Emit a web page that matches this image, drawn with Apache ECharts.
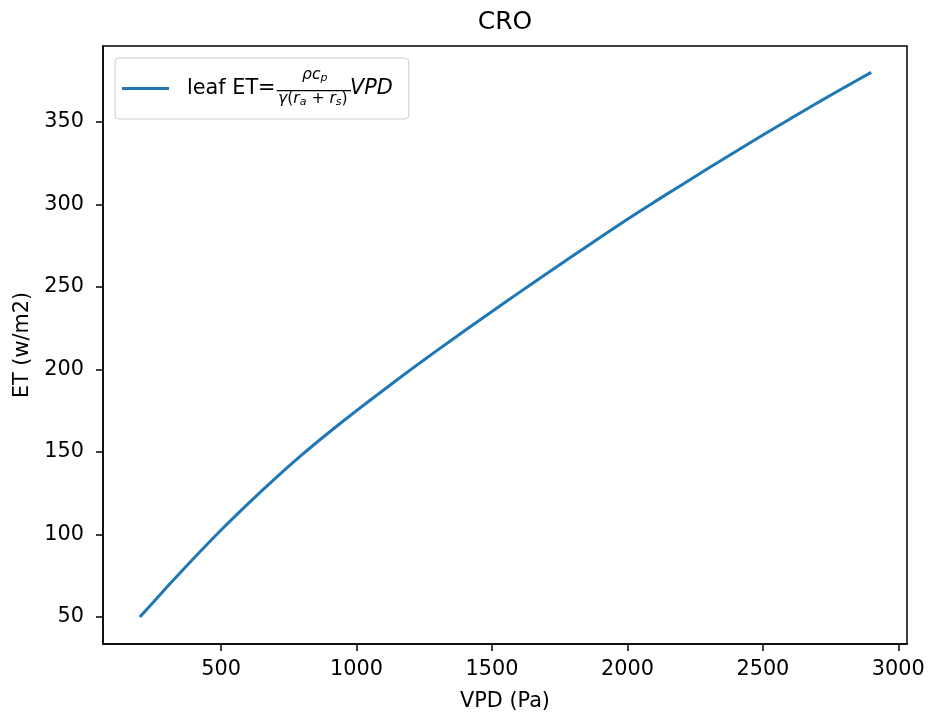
<!DOCTYPE html>
<html>
<head>
<meta charset="utf-8">
<script src="https://cdn.jsdelivr.net/npm/echarts@6/dist/echarts.min.js"></script>
<style>
  html, body { margin: 0; padding: 0; background: #fff; }
  #main { width: 928px; height: 717px; }
</style>
</head>
<body>
<div id="main"></div>
<script>
// VPD (Pa) 和 ET (w/m2) 数据，读自原图
var vpd = [200, 300, 400, 500, 600, 700, 800, 900, 1000, 1100, 1200, 1300, 1400, 1500,
  1600, 1700, 1800, 1900, 2000, 2100, 2200, 2300, 2400, 2500, 2600, 2700, 2800, 2900];
var et = [49.8, 68.0, 85.6, 102.6, 118.6, 133.9, 148.4, 162.0, 175.0, 187.5, 199.8, 211.8, 223.5, 235.0,
  246.5, 257.8, 269.0, 280.0, 291.0, 301.5, 311.8, 322.0, 332.0, 342.0, 351.8, 361.4, 370.8, 380.0];
var xTicks = [500, 1000, 1500, 2000, 2500, 3000];
var yTicks = [50, 100, 150, 200, 250, 300, 350];

var font = "DejaVu Sans";
var fs = 20.8;

var points = vpd.map(function (v, i) {
  return [v, et[i]];
});

var myChart = echarts.init(document.getElementById("main"));
myChart.setOption({
  animation: false,
  title: {
    text: "CRO",
    left: 505,
    top: 10,
    padding: 0,
    textAlign: "center",
    textStyle: { fontFamily: font, fontSize: 25, fontWeight: "normal", color: "#000" },
  },
  grid: {
    left: 103,
    top: 46,
    width: 804,
    height: 598,
    containLabel: false,
    outerBoundsMode: "none",
    show: true,
    borderColor: "#000",
    borderWidth: 1.5,
  },
  legend: {
    left: 115,
    top: 58,
    padding: [8, 16, 8, 7],
    itemWidth: 47,
    itemHeight: 3,
    icon: "rect",
    backgroundColor: "rgba(255,255,255,0.8)",
    borderColor: "#cccccc",
    borderWidth: 1,
    borderRadius: 4,
    formatter: function () {
      return "{g|}{lbl|leaf ET=}{frac|}{vpd|VPD}";
    },
    textStyle: {
      fontFamily: font,
      fontSize: fs,
      lineHeight: 45,
      color: "#000",
      rich: {
        g: { width: 13, height: 45, lineHeight: 45 },
        lbl: { fontFamily: font, fontSize: fs, width: 89, height: 45, lineHeight: 45, color: "#000" },
        frac: { width: 74, height: 45, lineHeight: 45 },
        vpd: { fontFamily: font, fontSize: fs, fontStyle: "italic", height: 45, lineHeight: 45, color: "#000" },
      },
    },
  },
  xAxis: {
    type: "value",
    min: 64,
    max: 3032,
    name: "VPD (Pa)",
    nameLocation: "middle",
    nameGap: 47,
    nameTextStyle: { fontFamily: font, fontSize: fs, color: "#000" },
    axisLine: { lineStyle: { color: "#000", width: 1.5 } },
    axisTick: { show: true, length: 7, customValues: xTicks, lineStyle: { color: "#000", width: 1.5 } },
    axisLabel: {
      customValues: xTicks,
      margin: 15,
      fontFamily: font,
      fontSize: fs,
      color: "#000",
      formatter: function (v) {
        return String(v);
      },
    },
    splitLine: { show: false },
  },
  yAxis: {
    type: "value",
    min: 33.5,
    max: 396,
    name: "ET (w/m2)",
    nameLocation: "middle",
    nameGap: 66,
    nameRotate: 90,
    nameTextStyle: { fontFamily: font, fontSize: fs, color: "#000" },
    axisLine: { show: true, lineStyle: { color: "#000", width: 1.5 } },
    axisTick: { show: true, length: 7, customValues: yTicks, lineStyle: { color: "#000", width: 1.5 } },
    axisLabel: {
      customValues: yTicks,
      margin: 19,
      fontFamily: font,
      fontSize: fs,
      color: "#000",
      formatter: function (v) {
        return String(v);
      },
    },
    splitLine: { show: false },
  },
  series: [
    {
      name: "leaf ET",
      type: "line",
      data: points,
      symbol: "none",
      smooth: 0.2,
      lineStyle: { color: "#1f77b4", width: 3 },
      itemStyle: { color: "#1f77b4" },
    },
  ],
  // 图例里的分式部分
  graphic: [
    {
      type: "text",
      z: 100,
      style: {
        x: 302,
        y: 75,
        verticalAlign: "middle",
        text: "{i|ρc}{s|p}",
        rich: {
          i: { fontFamily: font, fontSize: 15.6, fontStyle: "italic", color: "#000" },
          s: { fontFamily: font, fontSize: 11, fontStyle: "italic", color: "#000", verticalAlign: "bottom", padding: [6, 0, 0, 0] },
        },
      },
    },
    {
      type: "line",
      z: 100,
      shape: { x1: 276.7, y1: 90.7, x2: 351, y2: 90.7 },
      style: { stroke: "#000", lineWidth: 1.2 },
    },
    {
      type: "text",
      z: 100,
      style: {
        x: 278,
        y: 99,
        verticalAlign: "middle",
        text: "{i|γ}{n|(}{i|r}{s|a}{n| + }{i|r}{s|s}{n|)}",
        rich: {
          i: { fontFamily: font, fontSize: 15.6, fontStyle: "italic", color: "#000" },
          n: { fontFamily: font, fontSize: 15.6, color: "#000" },
          s: { fontFamily: font, fontSize: 11, fontStyle: "italic", color: "#000", verticalAlign: "bottom", padding: [6, 0, 0, 0] },
        },
      },
    },
  ],
});
</script>
</body>
</html>
